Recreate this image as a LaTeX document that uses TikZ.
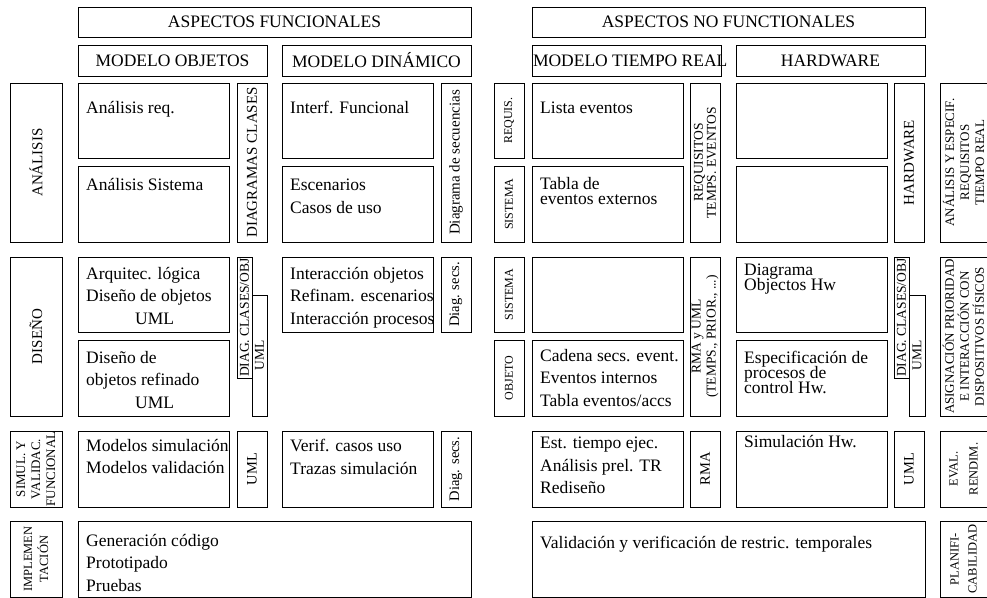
\documentclass[tikz,border=0pt]{standalone}
\usepackage{fontspec}
\setmainfont{Liberation Serif}

\begin{document}
\lineskiplimit=-20pt
\begin{tikzpicture}[
    x=1pt, y=-1pt,
    cell/.style={draw, line width=1pt, inner sep=0pt, outer sep=0pt, anchor=north west},
    head/.style={cell, font=\fontsize{17.5}{20}\selectfont},
    vcell/.style={draw, line width=1pt, inner sep=0pt, outer sep=0pt, rotate=90, align=center},
    vbig/.style={vcell, font=\fontsize{15}{16}\selectfont},
    vmid/.style={vcell, font=\fontsize{13.5}{15}\selectfont},
    vsmall/.style={vcell, font=\fontsize{12.5}{15}\selectfont},
    ctext/.style={anchor=north west, inner sep=0pt, xshift=8pt, yshift=-#1, align=left,
      execute at begin node={\rule{0pt}{16pt}}, font=\fontsize{17.5}{22.5}\selectfont},
    ctext/.default=8pt,
    ctight/.style={ctext=#1, font=\fontsize{17.5}{15}\selectfont},
    ctight/.default=6pt,
  ]
  \useasboundingbox (0,0) rectangle (987,597);

  % cabeceras
  \node[head, minimum width=393, minimum height=30] (hfun) at (78,7) {ASPECTOS FUNCIONALES};
  \node[head, minimum width=393, minimum height=30] (hnofun) at (532,7) {ASPECTOS NO FUNCTIONALES};
  \node[head, minimum width=189, minimum height=31] (hobj) at (78,45) {MODELO OBJETOS};
  \node[head, minimum width=189, minimum height=31] (hdin) at (282,45) {MODELO DINÁMICO};
  \node[head, minimum width=189, minimum height=31] (htr) at (532,45) {\makebox[189pt][l]{\hspace{1pt}MODELO TIEMPO REAL}};
  \node[head, minimum width=189, minimum height=31] (hhw) at (736,45) {HARDWARE};

  % fases
  \node[vbig, minimum width=159, minimum height=52] (lanalisis) at (36,162.5) {ANÁLISIS};
  \node[vbig, minimum width=159, minimum height=52] (ldiseno) at (36,336.5) {DISEÑO};
  \node[vsmall, font=\fontsize{13}{15}\selectfont, minimum width=76, minimum height=52] (lsimul) at (36,469) {SIMUL. Y\\VALIDAC.\\FUNCIONAL};
  \node[vsmall, font=\fontsize{12.5}{16}\selectfont, minimum width=76, minimum height=52] (limpl) at (36,559) {IMPLEMEN\\TACIÓN};

  % modelo objetos
  \node[cell, minimum width=151, minimum height=75, label={[ctext=14pt]north west:Análisis req.}] (anareq) at (78,83) {};
  \node[cell, minimum width=151, minimum height=76, label={[ctext]north west:Análisis Sistema}] (anasis) at (78,166) {};
  \node[vbig, minimum width=159, minimum height=30] (diagcl) at (252,162.5) {DIAGRAMAS CLASES};
  \node[cell, minimum width=151, minimum height=75, label={[ctext=10pt]north west:{Arquitec. lógica\\Diseño de objetos\\\hspace*{49pt}UML}}] (arqlog) at (78,257) {};
  \node[cell, minimum width=151, minimum height=76, label={[ctext=11pt]north west:{Diseño de\\objetos refinado\\\hspace*{49pt}UML}}] (disref) at (78,340) {};
  \node[vmid, minimum width=121, minimum height=15] (diagco) at (244.5,317.5) {DIAG. CLASES/OBJ};
  \node[vmid, minimum width=121, minimum height=15] (umlobj) at (259.5,355.5) {UML};
  \node[cell, minimum width=151, minimum height=76, label={[ctext=8pt]north west:{Modelos simulación\\Modelos validación}}] (modsim) at (78,431) {};
  \node[vcell, font=\fontsize{14.5}{15}\selectfont, minimum width=76, minimum height=30] (umlsim) at (252,469) {UML};

  % modelo dinamico
  \node[cell, minimum width=151, minimum height=75, label={[ctext=14pt]north west:Interf. Funcional}] (interf) at (282,83) {};
  \node[cell, minimum width=151, minimum height=76, label={[ctext=13pt]north west:{Escenarios\\Casos de uso}}] (escen) at (282,166) {};
  \node[vbig, minimum width=159, minimum height=30] (diagsec) at (456,162.5) {Diagrama de secuencias};
  \node[cell, minimum width=151, minimum height=75, label={[ctext=10pt]north west:{Interacción objetos\\Refinam. escenarios\\Interacción procesos}}] (interobj) at (282,257) {};
  \node[vcell, font=\fontsize{14.5}{15}\selectfont, minimum width=75, minimum height=30] (diagsecd) at (456,294.5) {Diag. secs.};
  \node[cell, minimum width=151, minimum height=76, label={[ctext=8pt]north west:{Verif. casos uso\\Trazas simulación}}] (verif) at (282,431) {};
  \node[vcell, font=\fontsize{14.5}{15}\selectfont, minimum width=76, minimum height=30] (diagsecs) at (456,469) {Diag. secs.};
  \node[cell, minimum width=393, minimum height=76, label={[ctext=13pt]north west:{Generación código\\Prototipado\\Pruebas}}] (gencod) at (78,521) {};

  % modelo tiempo real
  \node[vsmall, font=\fontsize{12}{15}\selectfont, minimum width=75, minimum height=30] (requis) at (509,120.5) {REQUIS.};
  \node[vsmall, font=\fontsize{12}{15}\selectfont, minimum width=76, minimum height=30] (sistema) at (509,204) {SISTEMA};
  \node[vsmall, font=\fontsize{12}{15}\selectfont, minimum width=75, minimum height=30] (sistemad) at (509,294.5) {SISTEMA};
  \node[vsmall, font=\fontsize{12}{15}\selectfont, minimum width=76, minimum height=30] (objeto) at (509,378) {OBJETO};
  \node[cell, minimum width=151, minimum height=75, label={[ctext=14pt]north west:Lista eventos}] (lista) at (532,83) {};
  \node[cell, minimum width=151, minimum height=76, label={[ctight=11pt]north west:{Tabla de\\eventos externos}}] (tabla) at (532,166) {};
  \node[vmid, font=\fontsize{13.5}{13}\selectfont, minimum width=159, minimum height=30] (reqtemp) at (705,162.5) {REQUISITOS\\TEMPS. EVENTOS};
  \node[cell, minimum width=151, minimum height=75] (trsis) at (532,257) {};
  \node[cell, minimum width=151, minimum height=76, label={[ctext=9pt]north west:{Cadena secs. event.\\Eventos internos\\Tabla eventos/accs}}] (cadena) at (532,340) {};
  \node[vmid, minimum width=159, minimum height=30] (rmauml) at (705,336.5) {RMA y UML\\(TEMPS., PRIOR., ...)};
  \node[cell, minimum width=151, minimum height=76, label={[ctext=6pt]north west:{Est. tiempo ejec.\\Análisis prel. TR\\Rediseño}}] (esttiempo) at (532,431) {};
  \node[vcell, font=\fontsize{14.5}{15}\selectfont, minimum width=76, minimum height=30] (rma) at (705,469) {RMA};
  \node[cell, minimum width=393, minimum height=76, label={[ctext=11pt]north west:{Validación y verificación de restric. temporales}}] (valid) at (532,521) {};

  % hardware
  \node[cell, minimum width=151, minimum height=75] (hwreq) at (736,83) {};
  \node[cell, minimum width=151, minimum height=76] (hwsis) at (736,166) {};
  \node[vbig, minimum width=159, minimum height=30] (hardw) at (909,162.5) {HARDWARE};
  \node[cell, minimum width=151, minimum height=75, label={[ctight=7pt]north west:{Diagrama\\Objectos Hw}}] (diaghw) at (736,257) {};
  \node[cell, minimum width=151, minimum height=76, label={[ctight=11pt]north west:{Especificación de\\procesos de\\control Hw.}}] (esphw) at (736,340) {};
  \node[vmid, minimum width=121, minimum height=15] (diagcohw) at (901.5,317.5) {DIAG. CLASES/OBJ};
  \node[vmid, minimum width=121, minimum height=16] (umlhw) at (917,355.5) {UML};
  \node[cell, minimum width=151, minimum height=76, label={[ctext=0pt]north west:Simulación Hw.}] (simhw) at (736,431) {};
  \node[vcell, font=\fontsize{14.5}{15}\selectfont, minimum width=76, minimum height=30] (umlev) at (909,469) {UML};

  % columna derecha
  \node[vsmall, font=\fontsize{13}{15}\selectfont, minimum width=159, minimum height=47] (anaesp) at (963.5,162.5) {ANÁLISIS Y ESPECIF.\\REQUISITOS\\TIEMPO REAL};
  \node[vsmall, font=\fontsize{13}{15}\selectfont, minimum width=159, minimum height=47] (asign) at (963.5,336.5) {ASIGNACIÓN PRIORIDAD\\E INTERACCIÓN CON\\DISPOSITIVOS FÍSICOS};
  \node[vsmall, font=\fontsize{12.5}{20}\selectfont, minimum width=76, minimum height=47] (evalr) at (963.5,469) {EVAL.\\RENDIM.};
  \node[vsmall, font=\fontsize{12.5}{18}\selectfont, minimum width=76, minimum height=47] (planif) at (963.5,559) {PLANIFI-\\CABILIDAD};
\end{tikzpicture}
\end{document}
